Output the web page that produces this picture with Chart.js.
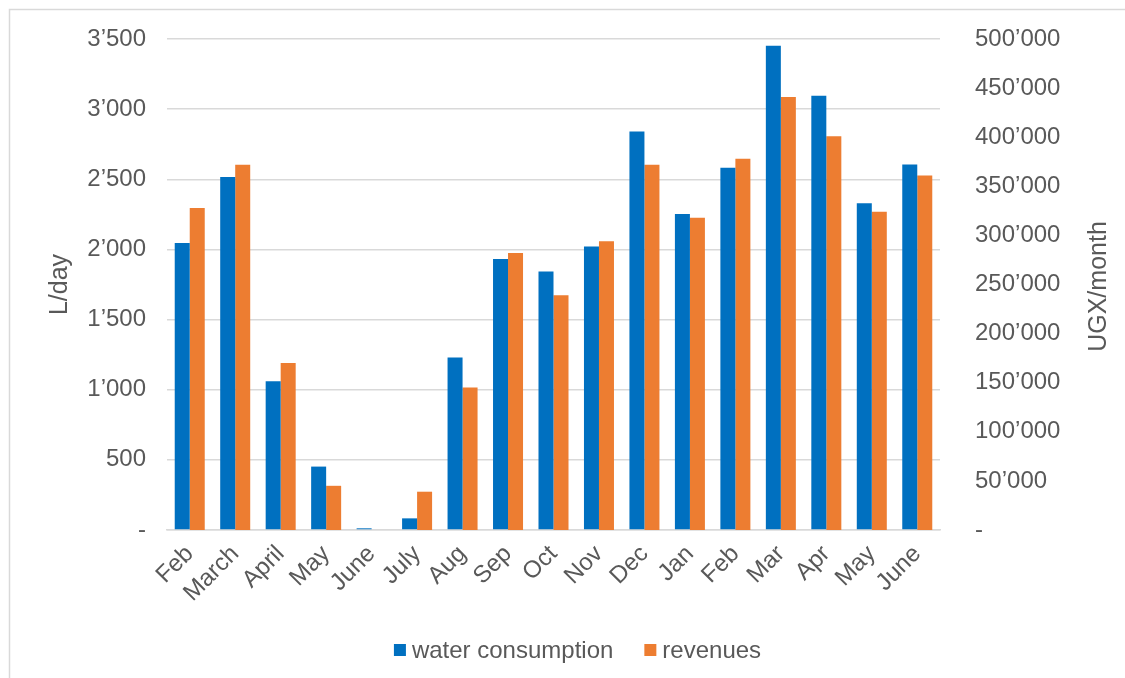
<!DOCTYPE html>
<html>
<head>
<meta charset="utf-8">
<script src="https://cdn.jsdelivr.net/npm/chart.js@4/dist/chart.umd.min.js"></script>
<style>
  html, body { margin: 0; padding: 0; background: #ffffff; }
  #wrap { width: 1125px; height: 678px; position: relative; }
</style>
</head>
<body>
<div id="wrap"><canvas id="chart" width="1125" height="678"></canvas></div>
<script>
// Months of the monitoring period
const categories = ['Feb', 'March', 'April', 'May', 'June', 'July', 'Aug', 'Sep', 'Oct', 'Nov', 'Dec', 'Jan', 'Feb', 'Mar', 'Apr', 'May', 'June'];

// Water consumption, litres per day (left axis)
const waterConsumption = [2045, 2516, 1060, 452, 12, 83, 1229, 1931, 1843, 2021, 2840, 2252, 2583, 3452, 3095, 2329, 2605];

// Revenues, UGX per month (right axis)
const revenues = [328000, 372000, 170000, 45000, 0, 39000, 145000, 282000, 239000, 294000, 372000, 318000, 378000, 441000, 401000, 324000, 361000];

// Axis ranges and titles
const leftAxisMax = 3500;
const leftAxisStep = 500;
const rightAxisMax = 500000;
const rightAxisStep = 50000;
const leftAxisTitle = 'L/day';
const rightAxisTitle = 'UGX/month';
const seriesNames = ['water consumption', 'revenues'];

const BLUE = '#0070C0';
const ORANGE = '#ED7D31';
const TEXT = '#595959';
const GRID = '#d9d9d9';
const FONT = "'Liberation Sans', Arial, sans-serif";

// Thousands separator as a right single quotation mark, zero as a dash
function fmt(v) {
  if (v === 0) return '-';
  return String(Math.round(v)).replace(/\B(?=(\d{3})+(?!\d))/g, '\u2019');
}

// Fixed axis widths; the plot top and bottom come from the layout padding alone
function fixVertical(width) {
  return function (scale) {
    scale.width = width;
    scale.paddingTop = 0;
    scale.paddingBottom = 0;
  };
}

// Outer frame, rotated axis titles and the legend row
const decorations = {
  id: 'decorations',
  beforeDraw(chart) {
    const ctx = chart.ctx;
    ctx.save();
    ctx.fillStyle = '#ffffff';
    ctx.fillRect(0, 0, chart.width, chart.height);
    ctx.strokeStyle = GRID;
    ctx.lineWidth = 1.5;
    ctx.strokeRect(9.5, 9.5, chart.width + 100, chart.height + 100);
    ctx.restore();
  },
  afterDraw(chart) {
    const ctx = chart.ctx;
    const area = chart.chartArea;
    const midY = (area.top + area.bottom) / 2;
    ctx.save();
    ctx.fillStyle = TEXT;
    ctx.font = '25px ' + FONT;
    ctx.textAlign = 'center';
    ctx.textBaseline = 'middle';

    ctx.save();
    ctx.translate(60, midY);
    ctx.rotate(-Math.PI / 2);
    ctx.fillText(leftAxisTitle, 0, 0);
    ctx.restore();

    ctx.save();
    ctx.translate(1099, midY + 2);
    ctx.rotate(-Math.PI / 2);
    ctx.fillText(rightAxisTitle, 0, 0);
    ctx.restore();

    // legend
    ctx.font = '24px ' + FONT;
    ctx.textAlign = 'left';
    const box = 12, gapText = 6, gapItem = 31;
    const colors = [BLUE, ORANGE];
    const widths = seriesNames.map(n => ctx.measureText(n).width);
    let total = 0;
    widths.forEach((w, i) => { total += box + gapText + w + (i ? gapItem : 0); });
    let x = (area.left + area.right) / 2 + 24 - total / 2;
    const y = 650;
    seriesNames.forEach((n, i) => {
      ctx.fillStyle = colors[i];
      ctx.fillRect(x, y - box / 2, box, box);
      ctx.fillStyle = TEXT;
      ctx.fillText(n, x + box + gapText, y + 1);
      x += box + gapText + widths[i] + gapItem;
    });
    ctx.restore();
  }
};

new Chart(document.getElementById('chart'), {
  type: 'bar',
  data: {
    labels: categories,
    datasets: [
      {
        label: seriesNames[0],
        data: waterConsumption,
        backgroundColor: BLUE,
        yAxisID: 'y',
        categoryPercentage: 0.66,
        barPercentage: 1.0
      },
      {
        label: seriesNames[1],
        data: revenues,
        backgroundColor: ORANGE,
        yAxisID: 'y1',
        categoryPercentage: 0.66,
        barPercentage: 1.0
      }
    ]
  },
  options: {
    responsive: false,
    animation: false,
    devicePixelRatio: 1,
    layout: { padding: { top: 39, left: 0, right: 0, bottom: 0 } },
    plugins: {
      legend: { display: false },
      tooltip: { enabled: false }
    },
    scales: {
      x: {
        grid: { display: false, drawTicks: false },
        border: { display: true, color: GRID, width: 1.5 },
        ticks: {
          color: TEXT,
          font: { family: FONT, size: 24 },
          minRotation: 45,
          maxRotation: 45,
          autoSkip: false,
          padding: 10
        },
        afterFit(scale) { scale.height = 148; }
      },
      y: {
        position: 'left',
        min: 0,
        max: leftAxisMax,
        grid: { color: GRID, lineWidth: 1.5, drawTicks: false },
        border: { display: false },
        ticks: {
          stepSize: leftAxisStep,
          color: TEXT,
          font: { family: FONT, size: 24 },
          padding: 21,
          callback: v => fmt(v)
        },
        afterFit: fixVertical(167)
      },
      y1: {
        position: 'right',
        min: 0,
        max: rightAxisMax,
        grid: { display: false, drawTicks: false },
        border: { display: false },
        ticks: {
          stepSize: rightAxisStep,
          color: TEXT,
          font: { family: FONT, size: 24 },
          padding: 35,
          callback: v => fmt(v)
        },
        afterFit: fixVertical(185)
      }
    }
  },
  plugins: [decorations]
});
</script>
</body>
</html>
